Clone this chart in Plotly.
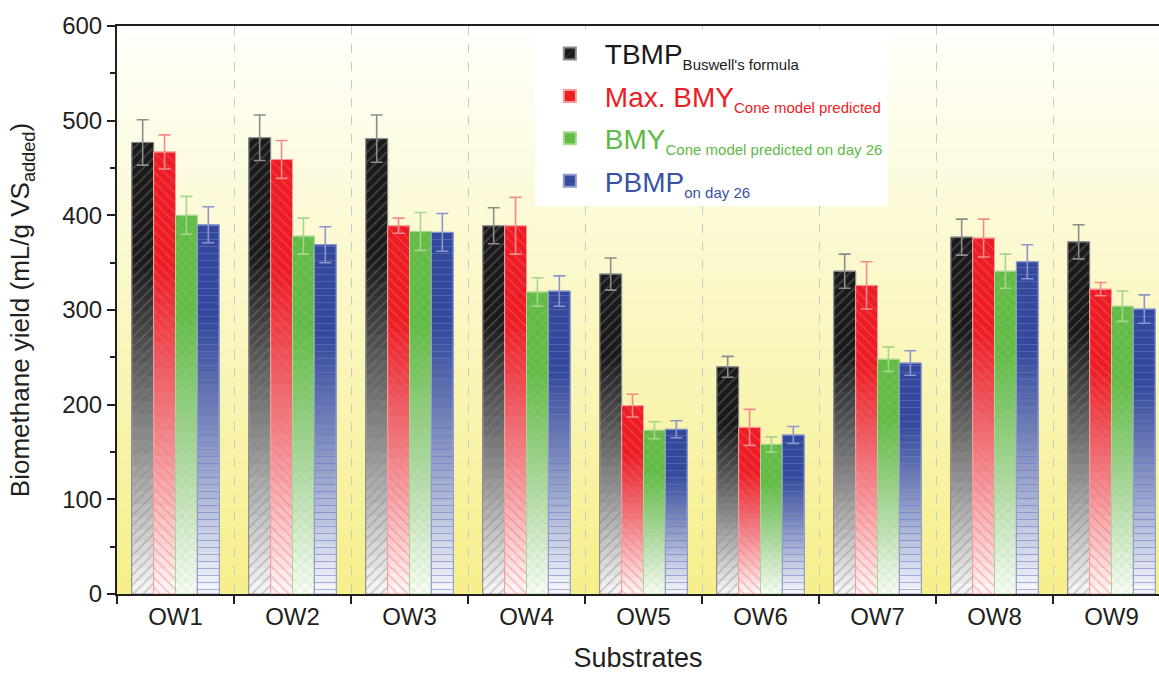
import plotly.graph_objects as go

substrates = ["OW1", "OW2", "OW3", "OW4", "OW5", "OW6", "OW7", "OW8", "OW9"]

tbmp = [477, 482, 481, 389, 338, 240, 341, 377, 372]
tbmp_err = [24, 24, 25, 19, 17, 11, 18, 19, 18]

max_bmy = [467, 459, 389, 389, 199, 176, 326, 376, 322]
max_bmy_err = [18, 20, 8, 30, 12, 19, 25, 20, 7]

bmy26 = [400, 378, 383, 319, 173, 158, 248, 341, 304]
bmy26_err = [20, 19, 20, 15, 9, 8, 13, 18, 16]

pbmp26 = [390, 369, 382, 320, 174, 168, 244, 351, 301]
pbmp26_err = [19, 19, 20, 16, 9, 9, 13, 18, 15]

series = [
    dict(name="<span style='color:#1a1a1a'>TBMP<sub><span style='font-size:15px'>Buswell's formula</span></sub></span>",
         y=tbmp, err=tbmp_err, color="#1a1a1a", fg="#666666", line="#8a8a8a", ecol="#8c8c8c", shape="/"),
    dict(name="<span style='color:#ed1c24'>Max. BMY<sub><span style='font-size:15px'>Cone model predicted</span></sub></span>",
         y=max_bmy, err=max_bmy_err, color="#ed1c24", fg="#f05058", line="#f59a9a", ecol="#f28a8a", shape="\\"),
    dict(name="<span style='color:#5fb946'>BMY<sub><span style='font-size:15px'>Cone model predicted on day 26</span></sub></span>",
         y=bmy26, err=bmy26_err, color="#62bb47", fg="#86ca68", line="#a8d890", ecol="#a5d68c", shape="x"),
    dict(name="<span style='color:#3953a4'>PBMP<sub><span style='font-size:15px'>on day 26</span></sub></span>",
         y=pbmp26, err=pbmp26_err, color="#34499c", fg="#5a6cbe", line="#8d98cc", ecol="#8c96cc", shape="-"),
]

W = 0.187
offsets = [-2 * W, -W, 0, W]

# gradient levels (fraction of each bar's height) for the white fade
n_lv = 26
f_top = 0.74
levels = [f_top * (1 - k / n_lv) for k in range(n_lv)]
targets = [0.97 * (k + 0.5) / n_lv for k in range(n_lv)]
alphas = []
prev = 0.0
for t in targets:
    alphas.append(1 - (1 - t) / (1 - prev))
    prev = t

fig = go.Figure()
for i, (s, off) in enumerate(zip(series, offsets)):
    grp = f"g{i}"
    fig.add_trace(go.Bar(
        x=substrates, y=s["y"], name=s["name"], offset=off, width=W, legendgroup=grp,
        marker=dict(color=s["color"], line=dict(width=1, color=s["line"]),
                    pattern=dict(shape=s["shape"], fgcolor=s["fg"], bgcolor=s["color"],
                                 size=7, solidity=0.15, fillmode="overlay")),
        showlegend=True, hoverinfo="skip",
    ))
    for lv, a in zip(levels, alphas):
        fig.add_trace(go.Bar(
            x=substrates, y=[v * lv for v in s["y"]], offset=off, width=W, legendgroup=grp,
            marker=dict(color=f"rgba(255,255,255,{a:.4f})", line=dict(width=0)),
            showlegend=False, hoverinfo="skip",
        ))
    fig.add_trace(go.Bar(
        x=substrates, y=s["y"], offset=off, width=W, legendgroup=grp,
        marker=dict(color="rgba(0,0,0,0)", line=dict(width=1, color=s["line"]),
                    pattern=dict(shape=s["shape"], fgcolor=s["fg"], bgcolor="rgba(0,0,0,0)",
                                 size=7, solidity=0.15, fillmode="overlay")),
        error_y=dict(type="data", array=s["err"], color=s["ecol"], thickness=1.6, width=6),
        showlegend=False, hoverinfo="skip",
    ))

# background gradient of the plot area
shapes = []
nb = 60
top_c = (255, 255, 252)
bot_c = (246, 239, 138)
for i in range(nb):
    t = (i + 0.5) / nb
    c = tuple(round(top_c[j] + (bot_c[j] - top_c[j]) * t) for j in range(3))
    shapes.append(dict(type="rect", xref="paper", yref="paper", x0=0, x1=1,
                       y0=1 - (i + 1) / nb, y1=1 - i / nb + 0.001,
                       fillcolor=f"rgb{c}", line=dict(width=0), layer="below"))

font = "Liberation Sans, Arial, sans-serif"
fig.update_layout(
    width=1159, height=673,
    margin=dict(l=117, r=0, t=26, b=79, autoexpand=False),
    barmode="overlay",
    paper_bgcolor="white",
    plot_bgcolor="rgba(0,0,0,0)",
    shapes=shapes,
    font=dict(family=font, size=24, color="#231f20"),
    showlegend=True,
    legend=dict(x=0.401, xanchor="left", y=0.995, yanchor="top",
                bgcolor="white", borderwidth=0, font=dict(size=28, family=font),
                itemsizing="constant", itemwidth=60, tracegroupgap=3),
    xaxis=dict(
        type="category", range=[-0.5, 8.406], tickson="boundaries", automargin=False,
        ticks="outside", ticklen=8, tickwidth=2, tickcolor="#231f20",
        showline=True, linewidth=2, linecolor="#231f20", mirror=True,
        showgrid=True, gridcolor="#c9c9c9", griddash="dash", gridwidth=1,
        tickfont=dict(size=24),
        title=dict(text="Substrates", font=dict(size=27), standoff=22),
    ),
    yaxis=dict(
        range=[0, 600], dtick=100, ticks="outside", ticklen=8, tickwidth=2, automargin=False,
        tickcolor="#231f20", showline=True, linewidth=2, linecolor="#231f20",
        showgrid=False, zeroline=False, tickfont=dict(size=24),
        minor=dict(dtick=50, ticks="outside", ticklen=5, tickwidth=1.5, tickcolor="#231f20"),
        title=dict(text="Biomethane yield (mL/g VS<sub>added</sub>)", font=dict(size=26), standoff=25),
    ),
)

fig.write_html("out.html", config={"displayModeBar": False},
               post_script="document.body.style.margin='0';document.body.style.overflow='hidden';")
